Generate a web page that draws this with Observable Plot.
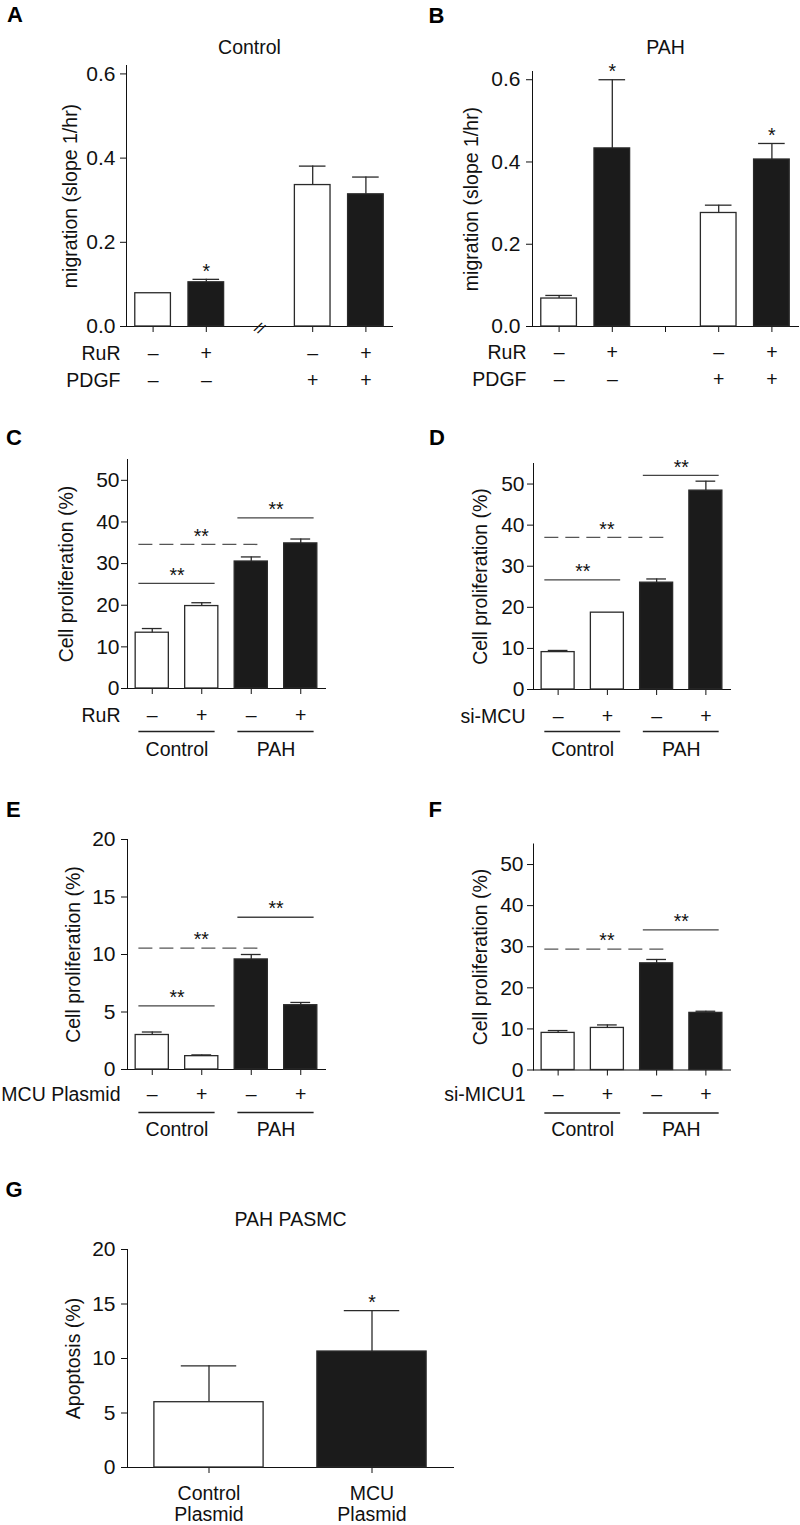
<!DOCTYPE html>
<html><head><meta charset="utf-8">
<script src="https://cdn.jsdelivr.net/npm/d3@7"></script>
<script src="https://cdn.jsdelivr.net/npm/@observablehq/plot@0.6"></script>
<style>
body{margin:0;background:#fff;}
#fig{position:relative;width:800px;height:1525px;font-family:"Liberation Sans",Arial,Helvetica,sans-serif;overflow:hidden;}
.lbl{position:absolute;font-weight:bold;font-size:22px;line-height:22px;color:#000;font-family:"Liberation Sans",Arial,Helvetica,sans-serif;}
</style></head><body><div id="fig"></div>
<script>
// ---------------- DATA ----------------
// A: migration, Control PASMC
const aRuR  = ["–", "+", "", "–", "+"];
const aPDGF = ["–", "–", "", "+", "+"];
const aMean = [0.079, 0.105, null, 0.336, 0.314];
const aSem  = [0, 0.007, null, 0.045, 0.041];
const aStar = ["", "*", "", "", ""];
// B: migration, PAH PASMC
const bRuR  = ["–", "+", "", "–", "+"];
const bPDGF = ["–", "–", "", "+", "+"];
const bMean = [0.068, 0.433, null, 0.276, 0.406];
const bSem  = [0.0075, 0.167, null, 0.019, 0.039];
const bStar = ["", "*", "", "", "*"];
// C: proliferation, RuR
const cGroup = ["Control", "Control", "PAH", "PAH"];
const cRuR   = ["–", "+", "–", "+"];
const cMean  = [13.4, 19.8, 30.5, 34.85];
const cSem   = [1.0, 0.8, 1.1, 1.05];
const cSigFrom = [0, 0, 2], cSigTo = [1, 2, 3], cSigLevel = [25.25, 34.6, 41.0], cSigDashed = [false, true, false];
// D: proliferation, si-MCU
const dGroup = ["Control", "Control", "PAH", "PAH"];
const dSi    = ["–", "+", "–", "+"];
const dMean  = [9.1, 18.7, 26.0, 48.4];
const dSem   = [0.4, 0, 0.9, 2.3];
const dSigFrom = [0, 0, 2], dSigTo = [1, 2, 3], dSigLevel = [26.7, 37.0, 52.1], dSigDashed = [false, true, false];
// E: proliferation, MCU plasmid
const eGroup = ["Control", "Control", "PAH", "PAH"];
const ePl    = ["–", "+", "–", "+"];
const eMean  = [3.0, 1.16, 9.57, 5.59];
const eSem   = [0.26, 0.11, 0.43, 0.24];
const eSigFrom = [0, 0, 2], eSigTo = [1, 2, 3], eSigLevel = [5.53, 10.55, 13.24], eSigDashed = [false, true, false];
// F: proliferation, si-MICU1
const fGroup = ["Control", "Control", "PAH", "PAH"];
const fSi    = ["–", "+", "–", "+"];
const fMean  = [9.03, 10.24, 25.96, 13.9];
const fSem   = [0.57, 0.73, 0.94, 0.4];
const fSigFrom = [0, 2], fSigTo = [2, 3], fSigLevel = [29.4, 34.1], fSigDashed = [true, false];
// G: apoptosis, PAH PASMC
const gCats = ["Control\nPlasmid", "MCU\nPlasmid"];
const gMean = [5.99, 10.64];
const gSem  = [3.34, 3.76];
const gStar = ["", "*"];
const groupNames = ["Control", "PAH"];

// ---------------- DRAWING ----------------
const FONT = '"Liberation Sans", Arial, Helvetica, sans-serif';
const FS = 19.5, TFS = 21;
const BLACK = "#1b1b1b", EDGE = "#2a2a2a", SIG = "#444";
const HW = 0.335;
const fig = document.getElementById("fig");
const T = {fontSize: FS, fill: "#111", lineAnchor: "middle"};

function panel(o) {
  const n = o.mean.length;
  const cats = d3.range(n);
  const bars = o.mean.map((m, i) => ({i, mean: m, sem: o.sem[i] || 0, top: m + (o.sem[i] || 0),
    dark: o.dark(i), star: o.star ? o.star[i] : ""})).filter(d => d.mean != null);
  const errs = bars.filter(d => d.sem > 0);
  const sigs = (o.sigFrom || []).map((f, k) => ({from: f, to: o.sigTo[k], level: o.sigLevel[k], dashed: o.sigDashed[k]}));
  const marks = [];
  marks.push(Plot.rect(bars.filter(d => !d.dark), {x1: d => d.i - HW, x2: d => d.i + HW, y1: 0, y2: "mean", fill: "white", stroke: EDGE, strokeWidth: 1.3}));
  marks.push(Plot.rect(bars.filter(d => d.dark), {x1: d => d.i - HW, x2: d => d.i + HW, y1: 0, y2: "mean", fill: BLACK, stroke: EDGE, strokeWidth: 1.3}));
  marks.push(Plot.ruleX(errs, {x: "i", y1: "mean", y2: "top", stroke: EDGE, strokeWidth: 1.3}));
  marks.push(Plot.ruleY(errs, {x1: d => d.i - o.cap, x2: d => d.i + o.cap, y: "top", stroke: EDGE, strokeWidth: 1.3}));
  marks.push(Plot.text(bars.filter(d => d.star), {...T, x: "i", y: "top", text: "star", dy: -8}));
  // significance brackets
  marks.push(Plot.ruleY(sigs.filter(d => !d.dashed), {x1: d => d.from - 0.27, x2: d => d.to + 0.27, y: "level", stroke: SIG, strokeWidth: 1.3}));
  marks.push(Plot.ruleY(sigs.filter(d => d.dashed), {x1: d => d.from - 0.27, x2: d => d.to + 0.25, y: "level", stroke: "#555", strokeWidth: 1.3, strokeDasharray: "14,7"}));
  marks.push(Plot.text(sigs, {...T, x: d => (d.from - 0.27 + d.to + (d.dashed ? 0.25 : 0.27)) / 2, y: "level", text: () => "**", dy: -8}));
  // treatment rows
  for (const r of (o.rows || [])) {
    marks.push(Plot.text(cats.filter(i => r.signs[i]), {...T, x: i => i, text: i => r.signs[i], frameAnchor: "bottom", dy: r.dy, textAnchor: "middle"}));
    marks.push(Plot.text([r.label], {...T, text: d => d, frameAnchor: "bottom-left", dx: o.rowDx, dy: r.dy, textAnchor: "end"}));
  }
  // group underlines
  if (o.groups) {
    const gs = groupNames.map(g => {
      const idx = cats.filter(i => o.groups[i] === g);
      return {name: g, from: d3.min(idx), to: d3.max(idx)};
    });
    marks.push(Plot.ruleY(gs, {x1: d => d.from - 0.27, x2: d => d.to + 0.27, y: 0, dy: o.groupLineDy, stroke: "#222", strokeWidth: 1.3}));
    marks.push(Plot.text(gs, {...T, x: d => (d.from + d.to) / 2, text: "name", frameAnchor: "bottom", dy: o.groupTextDy, textAnchor: "middle"}));
  }
  // category labels (G)
  if (o.catLabels) {
    marks.push(Plot.text(cats, {...T, x: i => i, text: i => o.catLabels[i], frameAnchor: "bottom", dy: o.catDy, lineHeight: 1.08, textAnchor: "middle"}));
  }
  // axis break
  if (o.breakAt != null) {
    marks.push(Plot.text([o.breakAt], {...T, x: d => d, y: 0, text: () => "//", fontSize: 15, rotate: 30, dy: 2}));
  }
  if (o.title) marks.push(Plot.text([o.title], {...T, text: d => d, frameAnchor: "top", textAnchor: "middle", dx: o.titleDx || 0, dy: o.titleDy}));
  marks.push(Plot.text([o.ylabel], {...T, text: d => d, frameAnchor: "left", textAnchor: "middle", rotate: -90, dx: o.ylabelDx}));

  const svg = Plot.plot({
    width: o.width, height: o.height,
    marginLeft: o.mL, marginRight: o.mR, marginTop: o.mT, marginBottom: o.mB,
    style: {fontFamily: FONT, fontSize: TFS + "px", color: "#111", background: "transparent", overflow: "visible"},
    x: {domain: [-0.5, n - 0.5], ticks: o.xTicks || cats, tickFormat: () => "", tickSize: 6, line: true, label: null},
    y: {domain: o.yDomain, ticks: o.yTicks, tickFormat: o.yFmt, tickSize: 6, tickPadding: o.pad, line: true, label: null},
    marks
  });
  svg.style.position = "absolute";
  svg.style.left = o.left + "px";
  svg.style.top = o.top + "px";
  svg.style.maxWidth = "none";
  fig.appendChild(svg);
}

const fmt1 = d3.format(".1f"), fmt0 = d3.format("d");
const propTicks = [0, 10, 20, 30, 40, 50];

panel({left: 0, top: 0, width: 400, height: 400, mL: 126, mR: 8, mT: 65, mB: 74,
  mean: aMean, sem: aSem, star: aStar, dark: i => aRuR[i] === "+", cap: 0.25,
  yDomain: [0, 0.62], yTicks: [0, 0.2, 0.4, 0.6], yFmt: fmt1, pad: 5,
  xTicks: [0, 1, 3, 4], breakAt: 2,
  title: "Control", titleDx: -10, titleDy: -18,
  ylabel: "migration (slope 1/hr)", ylabelDx: -56,
  rows: [{label: "RuR", signs: aRuR, dy: 27}, {label: "PDGF", signs: aPDGF, dy: 54}], rowDx: -6});

panel({left: 400, top: 0, width: 400, height: 400, mL: 132, mR: 2, mT: 71, mB: 74,
  mean: bMean, sem: bSem, star: bStar, dark: i => bRuR[i] === "+", cap: 0.25,
  yDomain: [0, 0.62], yTicks: [0, 0.2, 0.4, 0.6], yFmt: fmt1, pad: 6,
  title: "PAH", titleDy: -24,
  ylabel: "migration (slope 1/hr)", ylabelDx: -60.5,
  rows: [{label: "RuR", signs: bRuR, dy: 26}, {label: "PDGF", signs: bPDGF, dy: 53}], rowDx: -6});

panel({left: 0, top: 420, width: 400, height: 345, mL: 127, mR: 75, mT: 39, mB: 77,
  mean: cMean, sem: cSem, dark: i => cGroup[i] === "PAH", cap: 0.2,
  yDomain: [0, 55], yTicks: propTicks, yFmt: fmt0, pad: 2,
  sigFrom: cSigFrom, sigTo: cSigTo, sigLevel: cSigLevel, sigDashed: cSigDashed,
  ylabel: "Cell proliferation (%)", ylabelDx: -61,
  rows: [{label: "RuR", signs: cRuR, dy: 27}], rowDx: -7,
  groups: cGroup, groupLineDy: 43, groupTextDy: 61});

panel({left: 400, top: 420, width: 400, height: 345, mL: 133, mR: 70, mT: 43, mB: 76,
  mean: dMean, sem: dSem, dark: i => dGroup[i] === "PAH", cap: 0.2,
  yDomain: [0, 55], yTicks: propTicks, yFmt: fmt0, pad: 3,
  sigFrom: dSigFrom, sigTo: dSigTo, sigLevel: dSigLevel, sigDashed: dSigDashed,
  ylabel: "Cell proliferation (%)", ylabelDx: -53,
  rows: [{label: "si-MCU", signs: dSi, dy: 27}], rowDx: -8,
  groups: dGroup, groupLineDy: 42, groupTextDy: 60});

panel({left: 0, top: 800, width: 400, height: 345, mL: 127, mR: 75, mT: 39, mB: 76,
  mean: eMean, sem: eSem, dark: i => eGroup[i] === "PAH", cap: 0.2,
  yDomain: [0, 20], yTicks: [0, 5, 10, 15, 20], yFmt: fmt0, pad: 6,
  sigFrom: eSigFrom, sigTo: eSigTo, sigLevel: eSigLevel, sigDashed: eSigDashed,
  ylabel: "Cell proliferation (%)", ylabelDx: -54,
  rows: [{label: "MCU Plasmid", signs: ePl, dy: 25}], rowDx: -7,
  groups: eGroup, groupLineDy: 43, groupTextDy: 60});

panel({left: 400, top: 800, width: 400, height: 345, mL: 133, mR: 70, mT: 43.5, mB: 75.5,
  mean: fMean, sem: fSem, dark: i => fGroup[i] === "PAH", cap: 0.2,
  yDomain: [0, 55], yTicks: propTicks, yFmt: fmt0, pad: 4,
  sigFrom: fSigFrom, sigTo: fSigTo, sigLevel: fSigLevel, sigDashed: fSigDashed,
  ylabel: "Cell proliferation (%)", ylabelDx: -53,
  rows: [{label: "si-MICU1", signs: fSi, dy: 25}], rowDx: -8,
  groups: fGroup, groupLineDy: 43, groupTextDy: 60});

panel({left: 0, top: 1170, width: 480, height: 355, mL: 127, mR: 27, mT: 79, mB: 58,
  mean: gMean, sem: gSem, star: gStar, dark: i => i === 1, cap: 0.17,
  yDomain: [0, 20], yTicks: [0, 5, 10, 15, 20], yFmt: fmt0, pad: 6,
  title: "PAH PASMC", titleDy: -30,
  ylabel: "Apoptosis (%)", ylabelDx: -54,
  catLabels: gCats, catDy: 36});

// panel letters
const letters = [["A", 7, 4], ["B", 428.5, 5], ["C", 6, 427], ["D", 429, 427], ["E", 6, 799], ["F", 428.5, 799], ["G", 5.5, 1179]];
for (const [t, x, y] of letters) {
  const div = document.createElement("div");
  div.className = "lbl"; div.textContent = t;
  div.style.left = x + "px"; div.style.top = y + "px";
  fig.appendChild(div);
}
</script></body></html>
